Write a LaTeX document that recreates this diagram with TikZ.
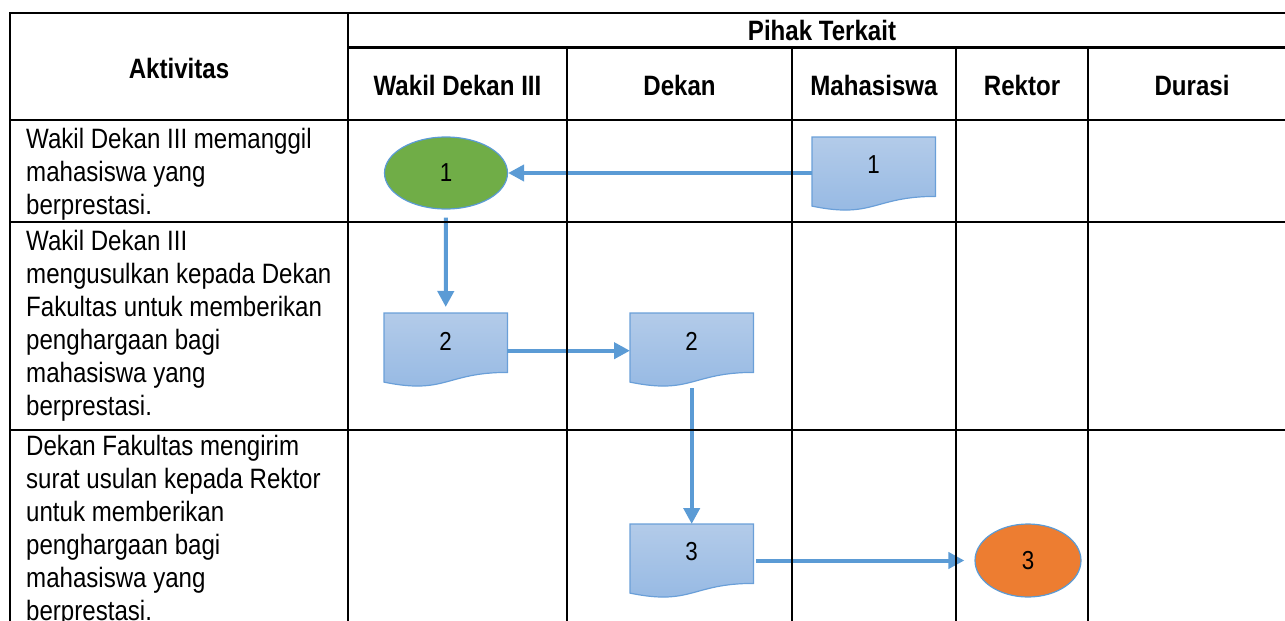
\documentclass[tikz,border=0pt]{standalone}
\usepackage{fontspec}
\setmainfont{Liberation Sans}[FakeStretch=0.86]
\usetikzlibrary{arrows.meta,shapes.geometric,calc}
\definecolor{arrowblue}{HTML}{5B9BD5}
\definecolor{docborder}{HTML}{6A9FD8}
\definecolor{doctop}{HTML}{B3CBE9}
\definecolor{docbot}{HTML}{94B8E3}
\definecolor{okgreen}{HTML}{70AD47}
\definecolor{okorange}{HTML}{ED7D31}
\pgfdeclarelayer{bg}\pgfdeclarelayer{fg}\pgfsetlayers{bg,main,fg}
\newcommand\docpath[1]{%
  \begin{pgfonlayer}{bg}
  \path[docshape] (#1.north west) -- (#1.north east) -- (#1.south east)
     .. controls (#1.south) and ($(#1.south)+(0,22.5)$) .. ($(#1.south west)+(0,9.7)$) -- cycle;
  \end{pgfonlayer}}
\begin{document}
\begin{tikzpicture}[x=1pt,y=-1pt,
  grid/.style={line width=2.6pt,black,line cap=rect},
  hdr/.style={font=\fontsize{28}{33}\selectfont\bfseries,inner sep=0pt,anchor=base},
  body/.style={font=\fontsize{28}{33}\selectfont,inner sep=0pt,anchor=base west},
  docbox/.style={minimum width=123pt,minimum height=59pt,inner sep=0pt,anchor=north west,font=\fontsize{26}{30}\selectfont},
  docshape/.style={draw=docborder,line width=1.2pt,top color=doctop,bottom color=docbot},
  oval/.style={ellipse,draw=arrowblue,line width=1.2pt,inner sep=0pt,font=\fontsize{26}{30}\selectfont},
  flow/.style={draw=arrowblue,line width=4pt,-{Triangle[length=16pt,width=16pt]}},
]
\useasboundingbox (0,0) rectangle (1285,621);
\clip (0,0) rectangle (1285,621);

% grid
\begin{pgfonlayer}{fg}
\draw[grid] (10,13) -- (1300,13);
\draw[grid] (348,47.5) -- (1300,47.5);
\draw[grid] (10,120) -- (1300,120);
\draw[grid] (10,222) -- (1300,222);
\draw[grid] (10,430) -- (1300,430);
\draw[grid] (10,13) -- (10,640);
\draw[grid] (348,13) -- (348,640);
\foreach \xx in {567,792,956,1088} \draw[grid] (\xx,47.5) -- (\xx,640);
\end{pgfonlayer}

% headers
\node[hdr] (hA) at (179,78) {Aktivitas};
\node[hdr] (hP) at (822,40) {Pihak Terkait};
\node[hdr] (hW) at (457.5,95) {Wakil Dekan III};
\node[hdr] (hD) at (679.5,95) {Dekan};
\node[hdr] (hM) at (874,95) {Mahasiswa};
\node[hdr] (hR) at (1022,95) {Rektor};
\node[hdr] (hU) at (1192,95) {Durasi};

% activity texts
\foreach \t [count=\i] in {Wakil Dekan III memanggil, mahasiswa yang, berprestasi.}
  \node[body] (ra\i) at (26,{148+33*(\i-1)}) {\t};
\foreach \t [count=\i] in {Wakil Dekan III, mengusulkan kepada Dekan, Fakultas untuk memberikan, penghargaan bagi, mahasiswa yang, berprestasi.}
  \node[body] (rb\i) at (26,{250+33*(\i-1)}) {\t};
\foreach \t [count=\i] in {Dekan Fakultas mengirim, surat usulan kepada Rektor, untuk memberikan, penghargaan bagi, mahasiswa yang, berprestasi.}
  \node[body] (rc\i) at (26,{455+33*(\i-1)}) {\t};

% documents
\node[docbox] (d1) at (812,137) {\raisebox{4pt}{1}}; \docpath{d1}
\node[docbox] (d2) at (384,313) {\raisebox{3pt}{2}}; \docpath{d2}
\node[docbox] (d3) at (630,313) {\raisebox{3pt}{2}}; \docpath{d3}
\node[docbox] (d4) at (630,524) {\raisebox{4pt}{3}}; \docpath{d4}

% ovals
\node[oval,fill=okgreen,minimum width=123pt,minimum height=72pt] (e1) at (446,173) {1};
\node[oval,fill=okorange,minimum width=106pt,minimum height=73pt] (e3) at (1028,560.5) {3};

% connectors
\draw[flow] (d1.west |- e1.east) -- (e1.east);
\draw[flow,shorten <=8pt,shorten >=6pt] (e1.south) -- (d2.north);
\draw[flow] ($(d2.east)+(0,8)$) -- ($(d3.west)+(0,8)$);
\draw[flow,shorten <=16pt] (d3.south) -- (d4.north);
\draw[flow,shorten <=3pt,shorten >=10pt] (d4.east |- e3.west) -- (e3.west);
\end{tikzpicture}
\end{document}
